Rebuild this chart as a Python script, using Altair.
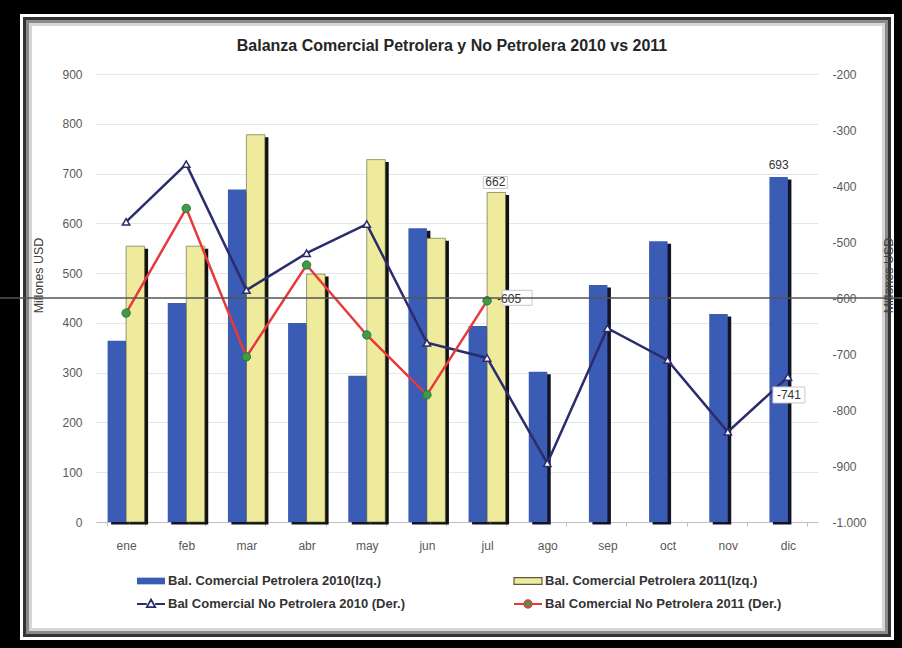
import altair as alt
import pandas as pd

# ---------------- data ----------------
months = ["ene", "feb", "mar", "abr", "may", "jun", "jul", "ago", "sep", "oct", "nov", "dic"]
pet_2010 = [364, 440, 668, 400, 294, 590, 394, 302, 476, 564, 418, 693]
pet_2011 = [554, 554, 778, 498, 728, 570, 662]
nopet_2010 = [-464, -361, -586, -520, -468, -680, -707, -895, -654, -711, -839, -741]
nopet_2011 = [-627, -440, -705, -541, -666, -773, -605]

TITLE = "Balanza Comercial Petrolera y No Petrolera 2010 vs 2011"
S1 = "Bal. Comercial Petrolera 2010(Izq.)"
S2 = "Bal. Comercial Petrolera 2011(Izq.)"
S3 = "Bal Comercial No Petrolera 2010 (Der.)"
S4 = "Bal Comercial No Petrolera 2011 (Der.)"

left_ticks = list(range(0, 901, 100))
right_ticks = list(range(-1000, -199, 100))

bars_2010 = pd.DataFrame({"month": months, "value": pet_2010, "s": S1})
bars_2011 = pd.DataFrame({"month": months[:len(pet_2011)], "value": pet_2011, "s": S2})
line_2010 = pd.DataFrame({"month": months, "v": nopet_2010, "s": S3})
line_2011 = pd.DataFrame({"month": months[:len(nopet_2011)], "v": nopet_2011, "s": S4})

lab662 = pd.DataFrame({"month": ["jul"], "value": [662], "txt": ["662"]})
lab693 = pd.DataFrame({"month": ["dic"], "value": [693], "txt": ["693"]})
lab605 = pd.DataFrame({"month": ["jul"], "v": [-605], "txt": ["-605"]})
lab741 = pd.DataFrame({"month": ["dic"], "v": [-741], "txt": ["-741"]})

one = pd.DataFrame({"k": [0]})

# ---------------- style ----------------
FONT = "Liberation Sans"
BLUE = "#3b5cb4"
YELLOW = "#eeeb9c"
NAVY = "#2b2c6c"
RED = "#e8383c"
GREEN = "#3f9b4b"
OX, OY = 96, 74  # plot origin in the page
BW = 18.5        # bar width (px)

x_enc = alt.X("month:N", sort=months, title=None,
              scale=alt.Scale(domain=months, paddingInner=0.37, paddingOuter=0.185),
              axis=alt.Axis(labelFont=FONT, labelFontSize=12, labelColor="#595959", labelAngle=0,
                            labelPadding=14, tickSize=4, tickColor="#bfbfbf", tickBand="extent",
                            domainColor="#bfbfbf", grid=False))

y_left = alt.Y("value:Q", title="Millones USD",
               scale=alt.Scale(domain=[0, 900], nice=False, zero=False),
               axis=alt.Axis(orient="left", values=left_ticks, format="d", labelFont=FONT,
                             labelFontSize=12, labelColor="#595959", labelPadding=14, ticks=False,
                             domain=False, grid=True, gridColor="#e6e6e6", gridWidth=1,
                             titleFont=FONT, titleFontSize=12.5, titleFontWeight="normal",
                             titleColor="#404040", titleX=-58, titleY=201, titleAngle=-90,
                             titleAlign="center", titleBaseline="middle"))
y_right = alt.Y("v:Q", title="Millones USD",
                scale=alt.Scale(domain=[-1000, -200], nice=False, zero=False),
                axis=alt.Axis(orient="right", values=right_ticks,
                              labelExpr="datum.value == -1000 ? '-1.000' : '' + datum.value",
                              labelFont=FONT, labelFontSize=12, labelColor="#595959",
                              labelPadding=14, ticks=False, domain=False, grid=False,
                              titleFont=FONT, titleFontSize=12.5, titleFontWeight="normal",
                              titleColor="#404040", titleX=70, titleY=201, titleAngle=-90,
                              titleAlign="center", titleBaseline="middle", zindex=1))


def legend(px, py, sym, fill=None, stroke=None, sw=None):
    kw = dict(orient="none", legendX=px - OX, legendY=py - OY - 14, title=None, symbolType=sym,
              symbolSize=784, labelFont=FONT, labelFontSize=13, labelFontWeight="bold",
              labelColor="#333333", labelOffset=2, padding=0, labelLimit=400)
    if fill:
        kw["symbolFillColor"] = fill
    if stroke:
        kw["symbolStrokeColor"] = stroke
    if sw:
        kw["symbolStrokeWidth"] = sw
    return alt.Legend(**kw)


RECT_SYM = "M-1,-0.24H1V0.24H-1Z"
TRI_SYM = "M-1,0H-0.3M0.3,0H1M0,-0.32L0.3,0.22L-0.3,0.22Z"
CIR_SYM = "M-1,0H-0.3M0.3,0H1M0.27,0A0.27,0.27,0,1,1,-0.27,0A0.27,0.27,0,1,1,0.27,0Z"
BOX = "M-1,-0.5H1V0.5H-1Z"

# ---------------- frame (decoration) ----------------
def prect(x1, y1, x2, y2, **mk):
    return alt.Chart(one).mark_rect(**mk).encode(
        x=alt.value(x1 - OX), x2=alt.value(x2 - OX), y=alt.value(y1 - OY), y2=alt.value(y2 - OY))

frame = [
    prect(0, 0, 902, 15, color="black"),
    prect(0, 0, 21, 648, color="black"),
    prect(893, 0, 902, 648, color="black"),
    prect(0, 639, 902, 648, color="black"),
    prect(21, 15, 893, 639, fillOpacity=0, stroke="white", strokeWidth=2),
    prect(24.5, 18.5, 889.5, 635.5, fillOpacity=0, stroke="#333333", strokeWidth=3),
    prect(27.5, 21.5, 886.5, 632.5, fillOpacity=0, stroke="#8a8a8a", strokeWidth=3),
    prect(30.5, 24.5, 883.5, 629.5, fillOpacity=0, stroke="#d6d6d6", strokeWidth=3),
]

title_mark = alt.Chart(one).mark_text(text=TITLE, font=FONT, fontSize=16, fontWeight="bold",
                                      color="#262626", align="center", baseline="alphabetic").encode(
    x=alt.value(452 - OX), y=alt.value(51 - OY))

# ---------------- bars ----------------
sh2010 = alt.Chart(bars_2010).mark_bar(color="#141428", width=BW, xOffset=-BW / 2 + 3.5, yOffset=2.5).encode(
    x=x_enc, y=y_left)
sh2011 = alt.Chart(bars_2011).mark_bar(color="#111111", width=BW, xOffset=BW / 2 + 3.5, yOffset=2.5).encode(
    x=x_enc, y=y_left)
b2010 = alt.Chart(bars_2010).mark_bar(width=BW, xOffset=-BW / 2).encode(
    x=x_enc, y=y_left,
    color=alt.Color("s:N", scale=alt.Scale(domain=[S1], range=[BLUE]),
                    legend=legend(136, 580, RECT_SYM)))
b2011 = alt.Chart(bars_2011).mark_bar(width=BW, xOffset=BW / 2, stroke="#5a5a38", strokeWidth=0.6).encode(
    x=x_enc, y=y_left,
    color=alt.Color("s:N", scale=alt.Scale(domain=[S2], range=[YELLOW]),
                    legend=legend(513, 580, RECT_SYM, stroke="#5a5a3a", sw=1.2)))
box662 = alt.Chart(lab662).mark_point(shape=BOX, filled=True, fill="white", stroke="#c8c8c8",
                                      strokeWidth=1, size=576, opacity=1, xOffset=BW / 2 - 1,
                                      yOffset=-10).encode(x=x_enc, y=y_left)
t662 = alt.Chart(lab662).mark_text(font=FONT, fontSize=12, color="#333333", baseline="middle",
                                   dx=BW / 2 - 1, dy=-10).encode(x=x_enc, y=y_left, text="txt:N")
t693 = alt.Chart(lab693).mark_text(font=FONT, fontSize=12, color="#333333", baseline="middle",
                                   dx=-BW / 2, dy=-12).encode(x=x_enc, y=y_left, text="txt:N")

bars_layer = alt.layer(sh2010, sh2011, b2010, b2011, box662, t662, t693).resolve_scale(color="independent")

# ---------------- lines ----------------
l2010 = alt.Chart(line_2010).mark_line(strokeWidth=2.5).encode(
    x=x_enc, y=y_right,
    color=alt.Color("s:N", scale=alt.Scale(domain=[S3], range=[NAVY]),
                    legend=legend(136, 603, TRI_SYM, fill="white", sw=1.8)))
p2010 = alt.Chart(line_2010).mark_point(shape="triangle-up", filled=True, fill="white", stroke=NAVY,
                                        strokeWidth=1.5, size=55, opacity=1).encode(x=x_enc, y=y_right)
l2011 = alt.Chart(line_2011).mark_line(strokeWidth=2.5).encode(
    x=x_enc, y=y_right,
    color=alt.Color("s:N", scale=alt.Scale(domain=[S4], range=[RED]),
                    legend=legend(513, 603, CIR_SYM, fill=GREEN, sw=1.8)))
p2011 = alt.Chart(line_2011).mark_point(shape="circle", filled=True, fill=GREEN, stroke="#2c7536",
                                        strokeWidth=1, size=70, opacity=1).encode(x=x_enc, y=y_right)
box605 = alt.Chart(lab605).mark_point(shape=BOX, filled=True, fill="white", stroke="#c8c8c8",
                                      strokeWidth=1, size=900, opacity=1, xOffset=30,
                                      yOffset=-3).encode(x=x_enc, y=y_right)
t605 = alt.Chart(lab605).mark_text(font=FONT, fontSize=12, color="#333333", align="left",
                                   baseline="middle", dx=10, dy=-2).encode(
    x=x_enc, y=y_right, text="txt:N")
box741 = alt.Chart(lab741).mark_point(shape=BOX, filled=True, fill="white", stroke="#c8c8c8",
                                      strokeWidth=1, size=1024, opacity=1, xOffset=1,
                                      yOffset=18).encode(x=x_enc, y=y_right)
t741 = alt.Chart(lab741).mark_text(font=FONT, fontSize=12, color="#333333", align="center",
                                   baseline="middle", dx=1, dy=18).encode(
    x=x_enc, y=y_right, text="txt:N")
hline = alt.Chart(one).mark_rule(color="#555555", strokeWidth=1.5).encode(
    y=alt.datum(-600), x=alt.value(-OX), x2=alt.value(902 - OX))

lines_layer = alt.layer(l2010, l2011, p2010, p2011, box605, box741, t605, t741, hline).resolve_scale(
    color="independent")

chart = alt.layer(*frame, title_mark, bars_layer, lines_layer).resolve_scale(
    y="independent", color="independent"
).properties(
    width=722, height=448,
    padding={"left": OX, "top": OY, "right": 902 - OX - 722, "bottom": 648 - OY - 448},
    autosize=alt.AutoSizeParams(type="none"),
    background="white",
).configure_view(stroke=None)

chart.save("out.html", embed_options={"renderer": "svg", "actions": False})
